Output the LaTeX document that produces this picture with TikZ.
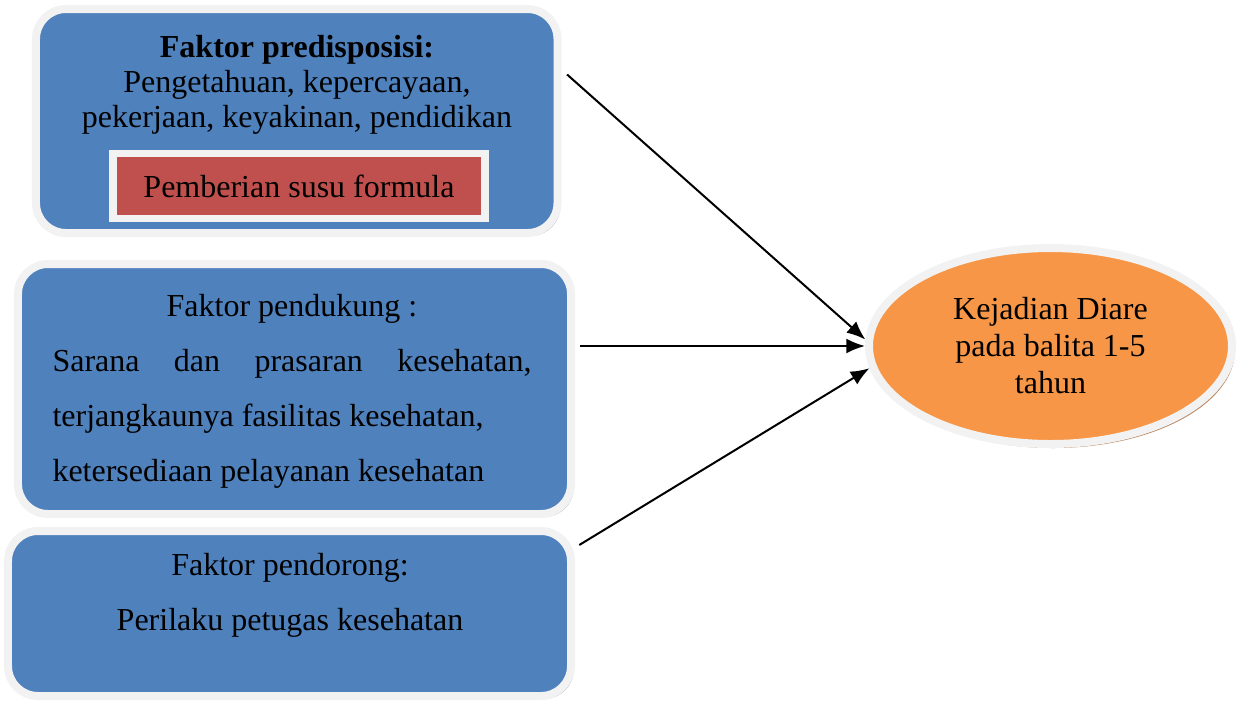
\documentclass[tikz,border=0pt]{standalone}
\usepackage{fontspec}
\setmainfont{Liberation Serif}
\usetikzlibrary{positioning,shadows,shapes.geometric,arrows.meta}

\definecolor{boxblue}{HTML}{4F81BD}
\definecolor{rimgray}{HTML}{F2F2F2}
\definecolor{shadegray}{HTML}{9AA4B8}
\definecolor{formred}{HTML}{C0504D}
\definecolor{formshade}{HTML}{4E5677}
\definecolor{diareorange}{HTML}{F79646}
\definecolor{diareshade}{HTML}{B88660}

\tikzset{
  factorbox/.style={draw=rimgray, fill=boxblue, line width=3.2pt, rounded corners=12pt,
    drop shadow={shadow xshift=1.2pt, shadow yshift=-1.2pt, fill=shadegray, opacity=1}},
  formbox/.style={draw=rimgray, fill=formred, line width=3pt, font=\fontsize{12.8}{14}\selectfont,
    drop shadow={shadow xshift=1.4pt, shadow yshift=-1.4pt, fill=formshade, opacity=1}},
  diarebox/.style={ellipse, draw=rimgray, fill=diareorange, line width=3.2pt, align=center,
    font=\fontsize{12.8}{14.8}\selectfont, inner sep=0pt,
    drop shadow={shadow xshift=1.2pt, shadow yshift=-1.6pt, fill=diareshade, opacity=1}},
  factortext/.style={inner sep=0pt, align=center, anchor=base},
  influence/.style={-{Latex[length=7.5pt,width=6pt]}, line width=0.8pt},
}

\begin{document}
\begin{tikzpicture}[x=0.4pt, y=-0.4pt]
\useasboundingbox (0,0) rectangle (1241,702);

% faktor-faktor
\node[factorbox, minimum width=208.6pt, minimum height=89.6pt] (pred) at (296.75,121) {};
\node[factortext, font=\fontsize{12.8}{14}\selectfont] (predtext) at (297,127)
  {\textbf{Faktor predisposisi:}\\Pengetahuan, kepercayaan,\\pekerjaan, keyakinan, pendidikan};
\node[formbox, minimum width=148.8pt, minimum height=26pt] (formula) at (299,186) {Pemberian susu formula};

\node[factorbox, minimum width=221.2pt, minimum height=100pt] (dukung) at (294.5,389) {};
\node[factortext, text width=191.6pt, align=justify, anchor=base west, font=\fontsize{12.8}{22}\selectfont]
  (dukungtext) at (52,316)
  {\makebox[191.6pt]{Faktor pendukung :}\\
   \makebox[191.6pt][s]{Sarana dan prasaran kesehatan,}\\
   terjangkaunya fasilitas kesehatan,\\
   ketersediaan pelayanan kesehatan};

\node[factorbox, minimum width=225.2pt, minimum height=66pt] (dorong) at (289.5,613.5) {};
\node[factortext, font=\fontsize{12.8}{22}\selectfont] (dorongtext) at (290,630.7)
  {Faktor pendorong:\\Perilaku petugas kesehatan};

% kejadian diare
\node[diarebox, minimum width=145.2pt, minimum height=78.4pt] (diare) at (1050.5,346)
  {Kejadian Diare\\pada balita 1-5\\tahun};

\draw[influence, shorten <=3pt] (pred.11) -- (diare.178);
\draw[influence, shorten <=2pt] (dukung.east |- diare.180) -- (diare.180);
\draw[influence, shorten <=2pt] (dorong.13) -- (diare.187);
\end{tikzpicture}
\end{document}
